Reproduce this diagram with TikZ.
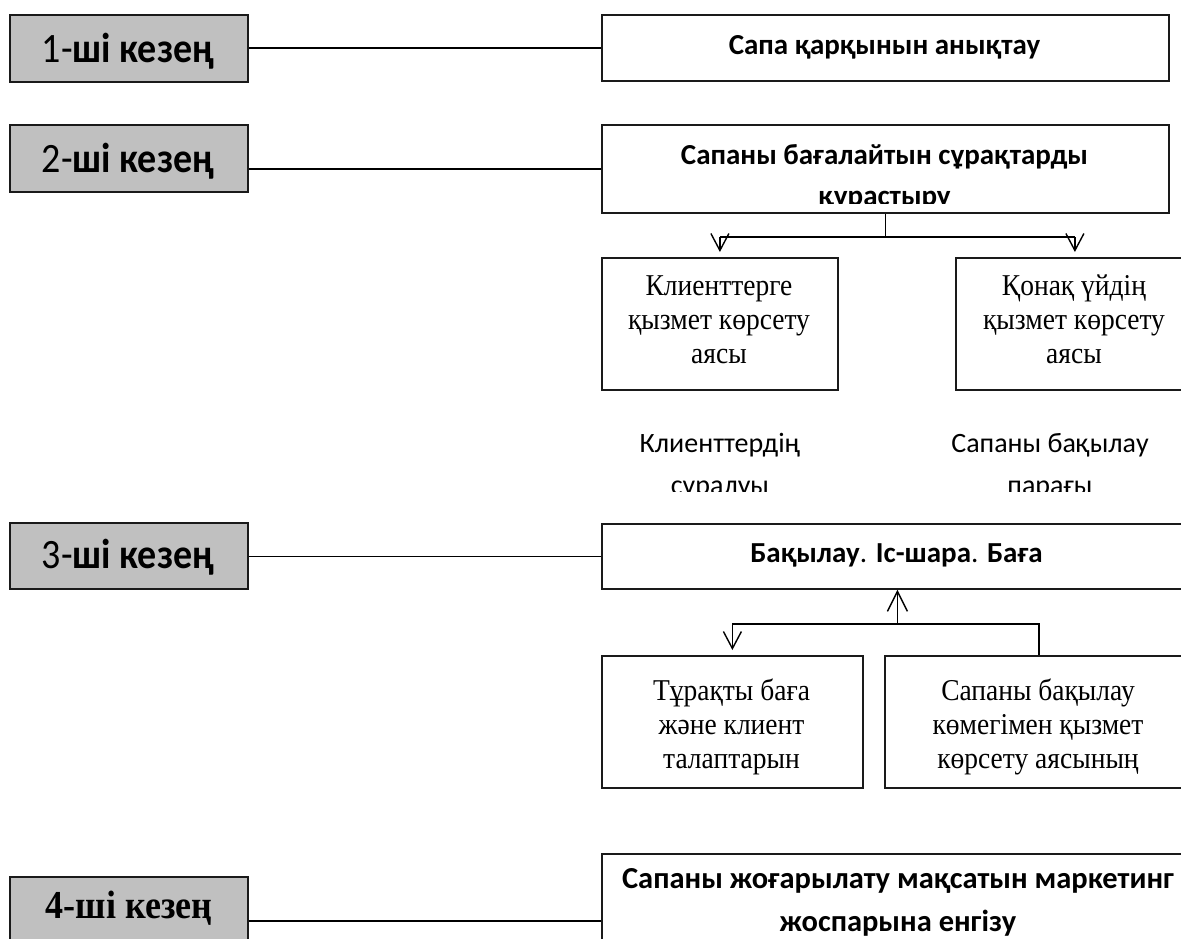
\documentclass[tikz,border=0pt]{standalone}
\usepackage{graphicx}
\usepackage{fontspec}
\setmainfont{Carlito}
\newfontfamily\serifk{Liberation Serif}
\usetikzlibrary{arrows.meta}
\definecolor{boxgray}{HTML}{C0C0C0}
\definecolor{edge}{HTML}{1A1A1A}
\newcommand{\vstretch}[1]{\scalebox{1}[1.1]{#1}}
\begin{document}
\begin{tikzpicture}[x=1pt,y=-1pt,
  gbox/.style={draw=edge, line width=1.8pt, fill=boxgray, inner sep=0pt, anchor=north west},
  wbox/.style={draw=edge, line width=1.8pt, fill=white, inner sep=0pt, anchor=north west},
  lbl/.style={anchor=base, inner sep=0pt, font=\fontsize{38}{40}\selectfont},
  lblser/.style={anchor=base, inner sep=0pt, font=\serifk\bfseries\fontsize{36}{38}\selectfont},
  btxt/.style={anchor=base, inner sep=0pt, font=\fontsize{29}{31}\selectfont\bfseries},
  bbtxt/.style={anchor=base, inner sep=0pt, font=\fontsize{30.5}{32}\selectfont\bfseries},
  ptxt/.style={anchor=base, inner sep=0pt, font=\fontsize{28}{30}\selectfont},
  stxt/.style={anchor=base, inner sep=0pt, font=\serifk\fontsize{27.5}{30}\selectfont},
  link/.style={line width=1.4pt, draw=black},
  arr/.style={link, -{Straight Barb[length=17pt,width=18pt]}},
  arrup/.style={link, -{Straight Barb[length=20pt,width=20pt]}}
]
\useasboundingbox (0,0) rectangle (1181,938);
\clip (0,0) rectangle (1181,938);
\fill[white] (0,0) rectangle (1181,938);

% stage boxes
\node[gbox, minimum width=238pt, minimum height=67pt] (g1) at (9,14) {};
\node[gbox, minimum width=238pt, minimum height=67pt] (g2) at (9,124) {};
\node[gbox, minimum width=238pt, minimum height=66pt] (g3) at (9,522) {};
\node[gbox, minimum width=238pt, minimum height=66pt] (g4) at (9,876) {};
\node[lbl] (g1t) at (128,62) {\vstretch{1-\textbf{ші кезең}}};
\node[lbl] (g2t) at (128,172) {\vstretch{2-\textbf{ші кезең}}};
\node[lbl] (g3t) at (128,568) {\vstretch{3-\textbf{ші кезең}}};
\node[lblser] (g4t) at (129,918) {\vstretch{4-ші кезең}};

% stage 1
\node[wbox, minimum width=567pt, minimum height=66pt] (r1) at (601,14) {};
\node[btxt] (r1t) at (884.5,54) {Сапа қарқынын анықтау};

% stage 2
\node[wbox, minimum width=567pt, minimum height=88pt] (r2) at (601,124) {};
\node[btxt] (r2a) at (884.5,164) {Сапаны бағалайтын сұрақтарды};
\begin{scope}
  \clip (601,124) rectangle (1168,203);
  \node[btxt] (r2b) at (884.5,205) {құрастыру};
\end{scope}

\node[wbox, minimum width=236pt, minimum height=132pt] (cl) at (601,257) {};
\node[stxt] (cl1) at (719,295) {\vstretch{Клиенттерге}};
\node[stxt] (cl2) at (719,329) {\vstretch{қызмет көрсету}};
\node[stxt] (cl3) at (719,363) {\vstretch{аясы}};

\node[wbox, minimum width=238pt, minimum height=132pt] (cr) at (955,257) {};
\node[stxt] (cr1) at (1074,295) {\vstretch{Қонақ үйдің}};
\node[stxt] (cr2) at (1074,329) {\vstretch{қызмет көрсету}};
\node[stxt] (cr3) at (1074,363) {\vstretch{аясы}};

% free texts
\node[ptxt] (t1a) at (720,452) {Клиенттердің};
\node[ptxt] (t2a) at (1050,452) {Сапаны бақылау};
\begin{scope}
  \clip (600,400) rectangle (1181,491);
  \node[ptxt] (t1b) at (720,494) {сұралуы};
  \node[ptxt] (t2b) at (1050,494) {парағы};
\end{scope}

% stage 3
\node[wbox, minimum width=591pt, minimum height=65pt] (r3) at (601,523) {};
\node[anchor=base, inner sep=0pt, font=\fontsize{29}{31}\selectfont] (r3t) at (896.5,562)
  {\textbf{Бақылау}. \textbf{Іс-шара}. \textbf{Баға}};

\node[wbox, minimum width=261pt, minimum height=132pt] (ll) at (601,655) {};
\node[stxt] (ll1) at (731.5,700) {\vstretch{Тұрақты баға}};
\node[stxt] (ll2) at (731.5,734) {\vstretch{және клиент}};
\node[stxt] (ll3) at (731.5,768) {\vstretch{талаптарын}};

\node[wbox, minimum width=308pt, minimum height=132pt] (lr) at (884,655) {};
\node[stxt] (lr1) at (1038,700) {\vstretch{Сапаны бақылау}};
\node[stxt] (lr2) at (1038,734) {\vstretch{көмегімен қызмет}};
\node[stxt] (lr3) at (1038,768) {\vstretch{көрсету аясының}};

% stage 4
\node[wbox, minimum width=594pt, minimum height=134pt] (r4) at (601,853) {};
\node[bbtxt] (r4a) at (898,888) {Сапаны жоғарылату мақсатын маркетинг};
\node[bbtxt] (r4b) at (898,931) {жоспарына енгізу};

% connectors
\draw[link] (g1.east |- r1.west) -- (r1.west);
\draw[link] (g2.east |- r2.west) -- (r2.west);
\draw[link] (g3.east |- r3.west) -- (r3.west);
\draw[link] (g4.east |- r4.west) -- (r4.west);

\coordinate (f2) at ([yshift=-23pt]r2.south);
\coordinate (f2l) at (f2 -| cl.north);
\coordinate (f2r) at (f2 -| cr.north);
\draw[link] (r2.south) -- (f2);
\draw[link] (f2l) -- (f2r);
\draw[arr, shorten >=5pt] (f2l) -- (cl.north);
\draw[arr, shorten >=5pt] (f2r) -- (cr.north);

\coordinate (f3) at ([yshift=-34pt]r3.south);
\coordinate (f3l) at (f3 -| ll.north);
\coordinate (f3r) at (f3 -| lr.north);
\draw[link] (lr.north) -- (f3r) -- (f3l);
\draw[arrup] (f3) -- (r3.south);
\draw[arr, shorten >=5pt] (f3l) -- (ll.north);
\end{tikzpicture}
\end{document}
